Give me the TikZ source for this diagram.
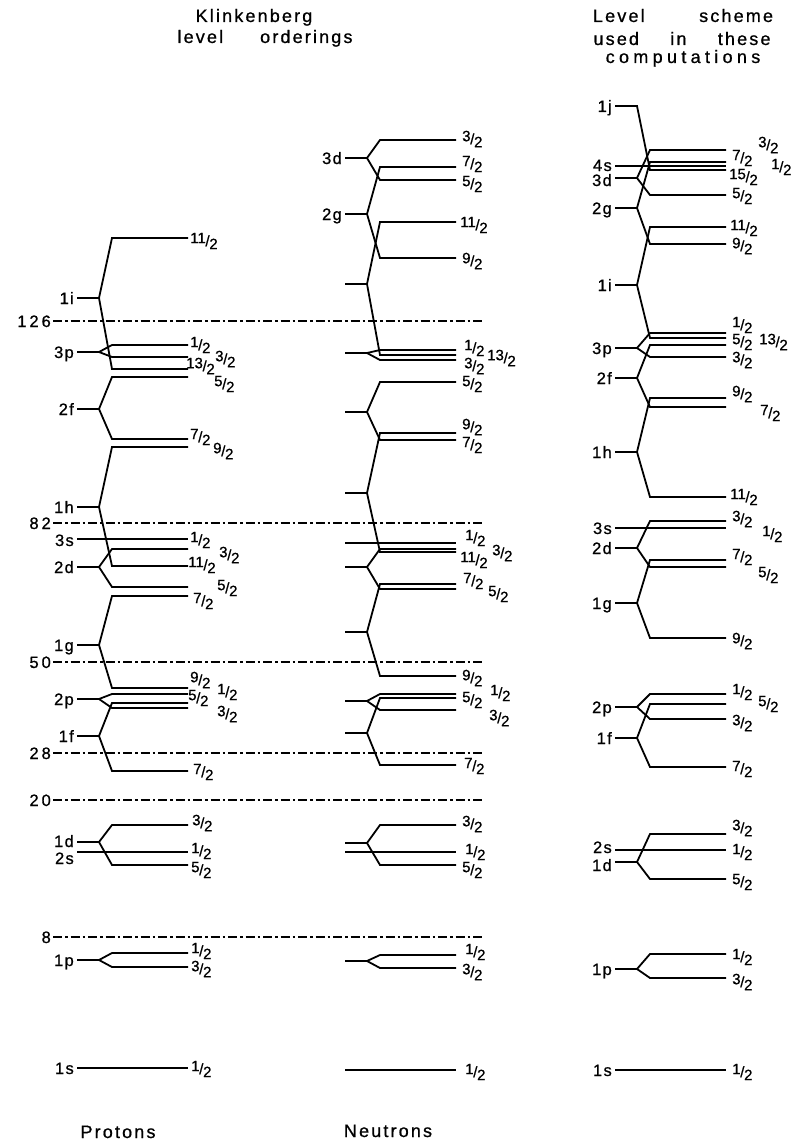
\documentclass[tikz,border=0pt]{standalone}
\usepackage{fontspec}
\setmainfont{Liberation Sans}[FakeBold=0.8]
\newfontfamily\headfam[LetterSpace=12, FakeBold=0.8]{Liberation Sans}
\newfontfamily\orbfam[LetterSpace=8, FakeBold=0.8]{Liberation Sans}
\newfontfamily\numfam[LetterSpace=18, FakeBold=0.8]{Liberation Sans}
\newcommand{\headfont}{\headfam\fontsize{18}{20}\selectfont}
\newcommand{\orbfont}{\orbfam\fontsize{16.5}{18}\selectfont}
\newcommand{\numfont}{\numfam\fontsize{16.5}{18}\selectfont}
\newcommand{\jfont}{\fontsize{15}{16}\selectfont}
\usetikzlibrary{positioning}
\tikzstyle{level} = [line width=1.8pt]
\tikzstyle{magic} = [line width=1.5pt, dash pattern=on 9pt off 3pt on 2.5pt off 3pt]
\tikzstyle{orb} = [anchor=base east, inner sep=0pt, font=\orbfont]
\tikzstyle{shellnum} = [anchor=base east, inner sep=0pt, font=\numfont]
\tikzstyle{jval} = [anchor=west, inner sep=0pt, font=\jfont]
\tikzstyle{heading} = [anchor=base, inner sep=0pt, font=\headfont]
% j value as n/2
\newcommand{\fr}[1]{\raisebox{3pt}{#1}\kern-0.3pt/\kern-0.3pt\raisebox{-3pt}{2}}
% split level: stub at #1, upper branch at #2, lower branch at #3
\newcommand{\shell}[3]{\draw[level] (77,#1) -- (99,#1) -- (112,#2) -- (188,#2);
  \draw[level] (99,#1) -- (112,#3) -- (188,#3);}
\newcommand{\single}[1]{\draw[level] (77,#1) -- (188,#1);}
\newcommand{\jl}[3]{\node[jval] (j#1-#2) at (#1,#2) {\fr{#3}};}

\begin{document}
\begin{tikzpicture}[x=1pt, y=-1pt]
  \useasboundingbox (0,0) rectangle (793,1145);

  % headings
  \node[heading] (klink) at (254,22) {Klinkenberg};
  \node[heading] (order) at (265,43) {\makebox[175pt]{level\hfill orderings}};
  \node[heading] (scheme) at (683,22) {\makebox[180pt]{Level\hfill scheme}};
  \node[heading] (used) at (682,45) {\makebox[177pt]{used\hfill in\hfill these}};
  \node[heading] (comp) at (683,63) {\addfontfeatures{LetterSpace=24}computations};
  \node[heading] (prot) at (118,1138) {Protons};
  \node[heading] (neut) at (388,1137) {Neutrons};

  % magic numbers
  \draw[magic] (53,321) -- (483,321); \node[shellnum] (m126) at (51,327) {126};
  \draw[magic] (53,523) -- (483,523); \node[shellnum] (m82) at (51,529) {82};
  \draw[magic] (53,662) -- (483,662); \node[shellnum] (m50) at (51,668) {50};
  \draw[magic] (53,753) -- (483,753); \node[shellnum] (m28) at (51,759) {28};
  \draw[magic] (53,800) -- (483,800); \node[shellnum] (m20) at (51,806) {20};
  \draw[magic] (53,937) -- (483,937); \node[shellnum] (m8) at (51,943) {8};

  % protons
  \shell{298}{238}{369} \node[orb] (p1i) at (74,304) {1i};
  \shell{352}{345}{357} \node[orb] (p3p) at (74,358) {3p};
  \shell{409}{377}{439} \node[orb] (p2f) at (74,415) {2f};
  \shell{507}{447}{566} \node[orb] (p1h) at (74,513) {1h};
  \single{539}          \node[orb] (p3s) at (74,546) {3s};
  \shell{567}{549}{587} \node[orb] (p2d) at (74,573) {2d};
  \shell{645}{596}{688} \node[orb] (p1g) at (74,651) {1g};
  \shell{699}{694}{708} \node[orb] (p2p) at (74,705) {2p};
  \shell{736}{703}{771} \node[orb] (p1f) at (74,742) {1f};
  \shell{842}{825}{865} \node[orb] (p1d) at (74,847) {1d};
  \single{852}          \node[orb] (p2s) at (74,864) {2s};
  \shell{960}{953}{967} \node[orb] (p1p) at (74,966) {1p};
  \single{1068}         \node[orb] (p1s) at (74,1074) {1s};
  \jl{190}{241}{11}
  \jl{190}{345}{1} \jl{215}{359}{3}
  \jl{186}{366}{13} \jl{214}{384}{5}
  \jl{190}{437}{7} \jl{213}{451}{9}
  \jl{190}{540}{1} \jl{219}{555}{3}
  \jl{188}{565}{11} \jl{217}{588}{5}
  \jl{193}{601}{7}
  \jl{190}{680}{9} \jl{217}{692}{1}
  \jl{188}{698}{5} \jl{217}{714}{3}
  \jl{193}{772}{7}
  \jl{192}{823}{3} \jl{191}{851}{1} \jl{191}{870}{5}
  \jl{191}{951}{1} \jl{191}{969}{3}
  \jl{191}{1069}{1}

  % neutrons
  \begin{scope}[xshift=268pt]
    \shell{158}{140}{180} \node[orb] (n3d) at (74,164) {3d};
    \shell{214}{167}{258} \node[orb] (n2g) at (74,220) {2g};
    \shell{284}{222}{355}
    \shell{353}{350}{360}
    \shell{412}{382}{440}
    \shell{493}{433}{552}
    \single{543}
    \shell{567}{549}{589}
    \shell{632}{584}{676}
    \shell{701}{694}{710}
    \shell{733}{698}{765}
    \shell{843}{825}{865}
    \single{852}
    \shell{961}{955}{968}
    \single{1070}
    \jl{194}{139}{3}
    \jl{194}{164}{7} \jl{194}{184}{5}
    \jl{192}{225}{11} \jl{194}{261}{9}
    \jl{196}{348}{1} \jl{219}{358}{13} \jl{196}{366}{3}
    \jl{194}{384}{5}
    \jl{194}{427}{9} \jl{194}{445}{7}
    \jl{197}{538}{1} \jl{224}{553}{3}
    \jl{192}{560}{11}
    \jl{195}{581}{7} \jl{220}{594}{5}
    \jl{194}{678}{9} \jl{222}{693}{1}
    \jl{194}{700}{5} \jl{221}{718}{3}
    \jl{196}{766}{7}
    \jl{194}{824}{3} \jl{197}{852}{1} \jl{194}{870}{5}
    \jl{197}{952}{1} \jl{194}{972}{3}
    \jl{197}{1072}{1}
  \end{scope}

  % level scheme used here
  \begin{scope}[xshift=538pt]
    \draw[level] (77,106) -- (99,106) -- (112,170) -- (188,170);
    \node[orb] (c1j) at (74,112) {1j};
    \single{166}          \node[orb] (c4s) at (74,171) {4s};
    \shell{178}{150}{195} \node[orb] (c3d) at (74,186) {3d};
    \shell{208}{162}{244} \node[orb] (c2g) at (74,214) {2g};
    \shell{285}{227}{338} \node[orb] (c1i) at (74,291) {1i};
    \shell{348}{333}{357} \node[orb] (c3p) at (74,354) {3p};
    \shell{378}{345}{407} \node[orb] (c2f) at (74,384) {2f};
    \shell{452}{398}{497} \node[orb] (c1h) at (74,458) {1h};
    \single{528}          \node[orb] (c3s) at (74,534) {3s};
    \shell{548}{521}{567} \node[orb] (c2d) at (74,554) {2d};
    \shell{603}{560}{638} \node[orb] (c1g) at (74,609) {1g};
    \shell{707}{694}{719} \node[orb] (c2p) at (74,713) {2p};
    \shell{738}{704}{767} \node[orb] (c1f) at (74,744) {1f};
    \single{850}          \node[orb] (c2s) at (74,853) {2s};
    \shell{862}{834}{879} \node[orb] (c1d) at (74,871) {1d};
    \shell{969}{954}{978} \node[orb] (c1p) at (74,975) {1p};
    \single{1070}         \node[orb] (c1s) at (74,1076) {1s};
    \jl{220}{145}{3}
    \jl{194}{158}{7} \jl{233}{167}{1}
    \jl{191}{177}{15}
    \jl{194}{196}{5}
    \jl{192}{228}{11} \jl{194}{246}{9}
    \jl{194}{325}{1} \jl{221}{342}{13}
    \jl{194}{342}{5}
    \jl{194}{360}{3}
    \jl{194}{394}{9} \jl{222}{413}{7}
    \jl{192}{497}{11}
    \jl{194}{519}{3} \jl{224}{534}{1}
    \jl{194}{557}{7} \jl{220}{575}{5}
    \jl{194}{641}{9}
    \jl{194}{692}{1} \jl{220}{704}{5}
    \jl{194}{723}{3}
    \jl{194}{769}{7}
    \jl{194}{828}{3} \jl{194}{852}{1} \jl{194}{882}{5}
    \jl{194}{957}{1} \jl{194}{982}{3}
    \jl{194}{1072}{1}
  \end{scope}
\end{tikzpicture}
\end{document}
